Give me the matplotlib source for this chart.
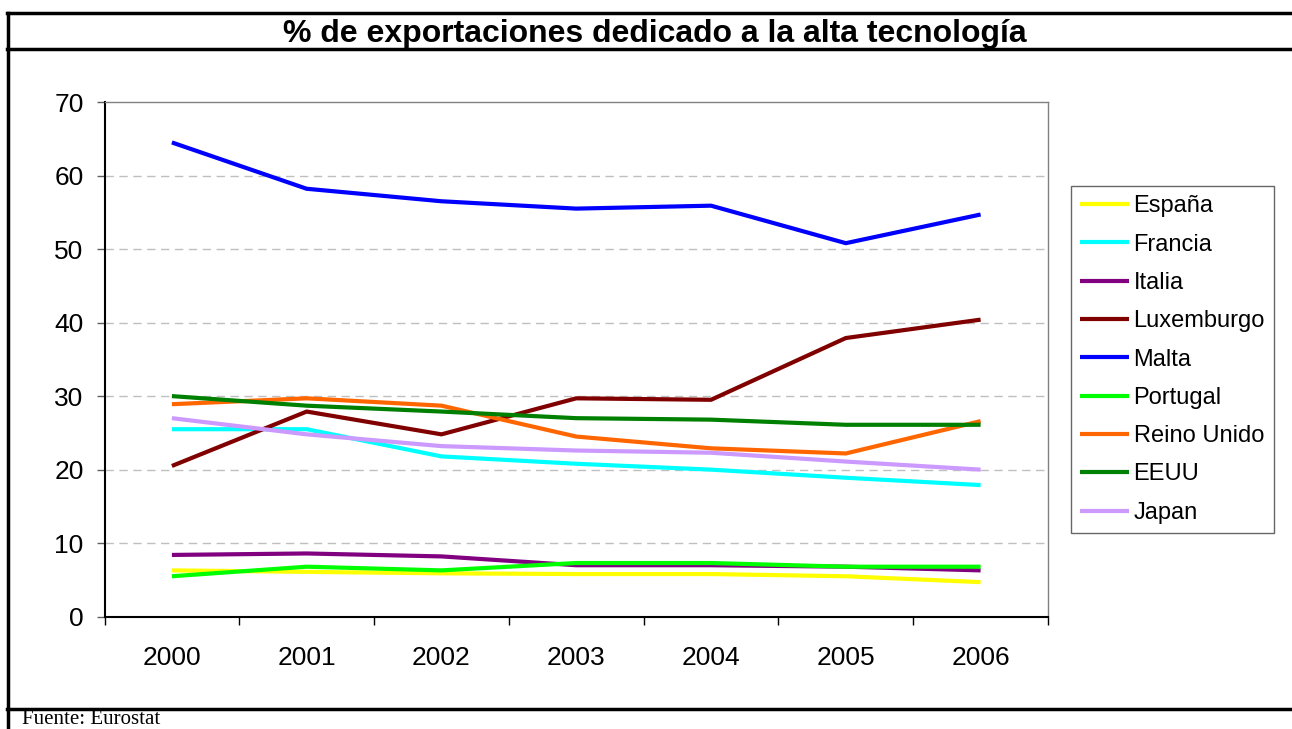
import matplotlib
matplotlib.use("Agg")
import matplotlib.pyplot as plt
from matplotlib.lines import Line2D

years = ["2000", "2001", "2002", "2003", "2004", "2005", "2006"]
espana = [6.3, 6.1, 5.9, 5.8, 5.8, 5.5, 4.7]
francia = [25.5, 25.5, 21.8, 20.8, 20.0, 18.9, 17.9]
italia = [8.4, 8.6, 8.2, 7.0, 7.0, 6.8, 6.3]
luxemburgo = [20.5, 27.9, 24.8, 29.7, 29.5, 37.9, 40.4]
malta = [64.5, 58.2, 56.5, 55.5, 55.9, 50.8, 54.7]
portugal = [5.5, 6.8, 6.3, 7.3, 7.3, 6.8, 6.8]
reino_unido = [28.9, 29.7, 28.7, 24.5, 22.9, 22.2, 26.6]
eeuu = [30.0, 28.7, 27.9, 27.0, 26.8, 26.1, 26.1]
japan = [27.0, 24.8, 23.2, 22.6, 22.3, 21.1, 20.0]

series = [
    ("España", espana, "#FFFF00"),
    ("Francia", francia, "#00FFFF"),
    ("Italia", italia, "#800080"),
    ("Luxemburgo", luxemburgo, "#800000"),
    ("Malta", malta, "#0000FF"),
    ("Portugal", portugal, "#00FF00"),
    ("Reino Unido", reino_unido, "#FF6600"),
    ("EEUU", eeuu, "#008000"),
    ("Japan", japan, "#CC99FF"),
]

plt.rcParams['font.family'] = ['Liberation Sans', 'DejaVu Sans']

W, H = 1292, 729
fig = plt.figure(figsize=(W / 100, H / 100), dpi=100)

# axes placement in pixels
left, right, top, bottom = 104.5, 1048, 102, 616.7
ax = fig.add_axes([left / W, 1 - bottom / H, (right - left) / W, (bottom - top) / H])

x = list(range(len(years)))
handles = []
for name, vals, col in series:
    ln, = ax.plot(x, vals, color=col, lw=3, solid_capstyle='butt', label=name)
    handles.append(ln)

ax.set_xlim(-0.5, len(years) - 0.5)
ax.set_ylim(0, 70)
ax.set_yticks(range(0, 71, 10))
ax.set_xticks([i - 0.5 for i in range(len(years) + 1)])
ax.set_xticklabels([])
ax.set_xticks(x, minor=True)
ax.set_xticklabels(years, minor=True, fontsize=19)
ax.tick_params(axis='x', which='minor', length=0, pad=21)
ax.tick_params(axis='x', which='major', length=6, width=1, color='black', direction='out')
ax.tick_params(axis='y', length=6, width=1, color='#606060', labelsize=19, pad=9)

for v in range(10, 70, 10):
    ax.axhline(v, color='#BFBFBF', lw=1, ls=(0, (6, 4)), zorder=0)

ax.spines['left'].set_color('black')
ax.spines['bottom'].set_color('black')
ax.spines['left'].set_linewidth(1.5)
ax.spines['bottom'].set_linewidth(1.5)
ax.spines['top'].set_color('#808080')
ax.spines['right'].set_color('#808080')
ax.spines['top'].set_linewidth(1)
ax.spines['right'].set_linewidth(1)

leg = fig.legend(handles=handles, loc='upper left',
                 bbox_to_anchor=(1071 / W, 1 - 186 / H),
                 frameon=True, fancybox=False, edgecolor='#404040',
                 fontsize=17, handlelength=2.05, handletextpad=0.2,
                 labelspacing=0.69, borderpad=0.4, borderaxespad=0)
leg.get_frame().set_linewidth(1)

# outer frame lines
def hline(y, x0=7, x1=W):
    fig.add_artist(Line2D([x0 / W, x1 / W], [1 - y / H, 1 - y / H], color='black', lw=2.5))

hline(12.5)
hline(49)
hline(708.5)
fig.add_artist(Line2D([7.5 / W, 7.5 / W], [0, 1 - 12.5 / H], color='black', lw=2.5))

fig.text(655 / W, 1 - 34 / H, "% de exportaciones dedicado a la alta tecnología",
         ha='center', va='center', fontsize=23, fontweight='bold')
fig.text(22 / W, 1 - 728.5 / H, "Fuente: Eurostat", ha='left', va='bottom',
         fontsize=15, family=['Liberation Serif', 'DejaVu Serif'])

fig.savefig("out.png", dpi=100)
